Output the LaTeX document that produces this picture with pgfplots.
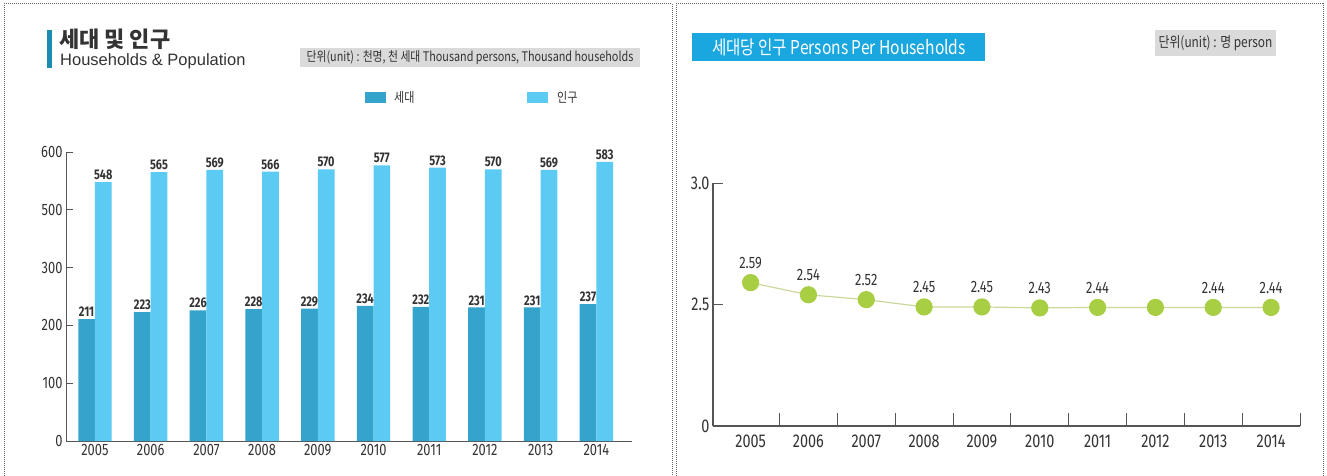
\documentclass[border=0pt]{standalone}
\usepackage{pgfplots}
\pgfplotsset{compat=1.18}
\usepackage{fontspec}
\setmainfont{Liberation Sans}
\newfontfamily\kr{Noto Sans CJK KR}
\newfontfamily\krc{Noto Sans CJK KR}[FakeStretch=0.82]
\newfontfamily\din{Fira Sans}[FakeStretch=0.78]
\newfontfamily\hel{Liberation Sans}

\definecolor{darkbar}{HTML}{35A4CC}
\definecolor{lightbar}{HTML}{5BCBF3}
\definecolor{dotgreen}{HTML}{A8CE44}
\definecolor{linegreen}{HTML}{C9D99B}
\definecolor{titlebox}{HTML}{1AA6DE}
\definecolor{unitbox}{HTML}{DADADA}
\definecolor{accent}{HTML}{1A8CB0}
\definecolor{axisgray}{HTML}{555555}
\definecolor{txt}{HTML}{333333}

\newcommand\lefttick{\din\fontsize{16.5pt}{16.5pt}\selectfont}
\newcommand\leftval{\din\bfseries\fontsize{14pt}{14pt}\selectfont}
\newcommand\righttick{\din\fontsize{18.5pt}{18.5pt}\selectfont}
\newcommand\rightval{\din\fontsize{16.5pt}{16.5pt}\selectfont}

\begin{document}
\begin{tikzpicture}
\path[use as bounding box] (0,0) rectangle (1327pt,-476pt);

% panel borders
\draw[densely dotted, gray!80!black, line width=1pt] (4pt,-480pt) -- (4pt,-4pt) -- (672pt,-4pt) -- (672pt,-480pt);
\draw[densely dotted, gray!80!black, line width=1pt] (676pt,-480pt) -- (676pt,-4pt) -- (1323pt,-4pt) -- (1323pt,-480pt);

% left header
\fill[accent] (47pt,-30pt) rectangle (52pt,-68pt);
\node[anchor=base west, inner sep=0pt, text=txt, font=\kr\bfseries\fontsize{22pt}{22pt}\selectfont] at (59pt,-48pt) {세대 및 인구};
\node[anchor=base west, inner sep=0pt, text=txt, font=\hel\fontsize{16.5pt}{16.5pt}\selectfont] at (60pt,-66pt) {Households \& Population};
\fill[unitbox] (300pt,-48pt) rectangle (640pt,-67pt);
\node[anchor=center, inner sep=0pt, text=txt, font=\krc\fontsize{13.2pt}{13.2pt}\selectfont] at (470pt,-57.5pt) {단위(unit) : 천명, 천 세대 Thousand persons, Thousand households};

% left legend
\fill[darkbar] (365pt,-92pt) rectangle (386pt,-103pt);
\node[anchor=west, inner sep=0pt, text=txt, font=\krc\fontsize{13.5pt}{13.5pt}\selectfont] at (394pt,-97.5pt) {세대};
\fill[lightbar] (527pt,-92pt) rectangle (548pt,-103pt);
\node[anchor=west, inner sep=0pt, text=txt, font=\krc\fontsize{13.5pt}{13.5pt}\selectfont] at (557pt,-97.5pt) {인구};

% right header
\fill[titlebox] (692pt,-33pt) rectangle (985pt,-61pt);
\node[anchor=center, inner sep=0pt, text=white, font=\krc\fontsize{19pt}{19pt}\selectfont] at (839pt,-47pt) {세대당 인구 Persons Per Households};
\fill[unitbox] (1155pt,-30pt) rectangle (1276pt,-56pt);
\node[anchor=center, inner sep=0pt, text=txt, font=\krc\fontsize{14.5pt}{14.5pt}\selectfont] at (1215.5pt,-43pt) {단위(unit) : 명 person};

% left chart: households and population
\begin{axis}[
  at={(66pt,-441pt)}, anchor=south west,
  scale only axis, width=566pt, height=289pt,
  ybar=0pt, bar width=0.3,
  xmin=-0.52, xmax=9.64,
  ymin=0, ymax=600,
  % the source axis skips 400: 300 and 500 sit one step apart
  y coord trafo/.code={\pgfmathparse{#1>400 ? #1-100 : #1}},
  y coord inv trafo/.code={\pgfmathparse{#1>300 ? #1+100 : #1}},
  ytick={0,100,200,300,500,600},
  yticklabels={0,100,200,300,500,600},
  xtick={0,1,2,3,4,5,6,7,8,9},
  xticklabels={2005,2006,2007,2008,2009,2010,2011,2012,2013,2014},
  axis x line=bottom, axis y line=left,
  axis line style={-, draw=axisgray, line width=1pt},
  xtick style={draw=none},
  ytick style={draw=axisgray, line width=1pt},
  major tick length=7pt, tick align=inside,
  ticklabel style={font=\lefttick, text=txt},
  /pgf/number format/assume math mode=true,
  nodes near coords, point meta=explicit symbolic,
  every node near coord/.append style={font=\leftval, text=txt, inner sep=2pt},
]
\addplot[fill=darkbar, draw=none] coordinates {
  (0,211)[211] (1,223)[223] (2,226)[226] (3,228)[228] (4,229)[229]
  (5,234)[234] (6,232)[232] (7,231)[231] (8,231)[231] (9,237)[237]
};
\addplot[fill=lightbar, draw=none] coordinates {
  (0,548)[548] (1,565)[565] (2,569)[569] (3,566)[566] (4,570)[570]
  (5,577)[577] (6,573)[573] (7,570)[570] (8,569)[569] (9,583)[583]
};
\end{axis}

% right chart: persons per household
\begin{axis}[
  at={(713pt,-426pt)}, anchor=south west,
  scale only axis, width=587pt, height=243pt,
  xmin=-0.65, xmax=9.5,
  ymin=0, ymax=3.0,
  % the source axis stretches 2.5--3.0 to the height of 0--2.5
  y coord trafo/.code={\pgfmathparse{#1>2.5 ? 2.5+(#1-2.5)*5 : #1}},
  y coord inv trafo/.code={\pgfmathparse{#1>2.5 ? 2.5+(#1-2.5)/5 : #1}},
  ytick={0,2.5,3.0},
  yticklabels={0,2.5,3.0},
  xtick={0,1,2,3,4,5,6,7,8,9},
  xticklabels={2005,2006,2007,2008,2009,2010,2011,2012,2013,2014},
  extra x ticks={0.5,1.5,2.5,3.5,4.5,5.5,6.5,7.5,8.5,9.5},
  extra x tick labels={},
  extra x tick style={major tick length=13pt, xtick style={draw=axisgray, line width=1pt}},
  axis x line=bottom, axis y line=left,
  axis line style={-, draw=axisgray, line width=1.2pt},
  xtick style={draw=none},
  ytick style={draw=axisgray, line width=1pt},
  major tick length=10pt, tick align=inside,
  ticklabel style={font=\righttick, text=txt},
  xticklabel style={yshift=-5pt},
  /pgf/number format/assume math mode=true,
  nodes near coords, point meta=explicit symbolic,
  every node near coord/.append style={font=\rightval, text=txt, yshift=10pt},
]
\addplot[color=linegreen, line width=1.2pt, mark=*, mark size=8pt,
  mark options={fill=dotgreen, draw=dotgreen}] coordinates {
  (0,2.59)[2.59] (1,2.54)[2.54] (2,2.52)[2.52] (3,2.45)[2.45] (4,2.45)[2.45]
  (5,2.43)[2.43] (6,2.44)[2.44] (7,2.44)[] (8,2.44)[2.44] (9,2.44)[2.44]
};
\end{axis}
\end{tikzpicture}
\end{document}
